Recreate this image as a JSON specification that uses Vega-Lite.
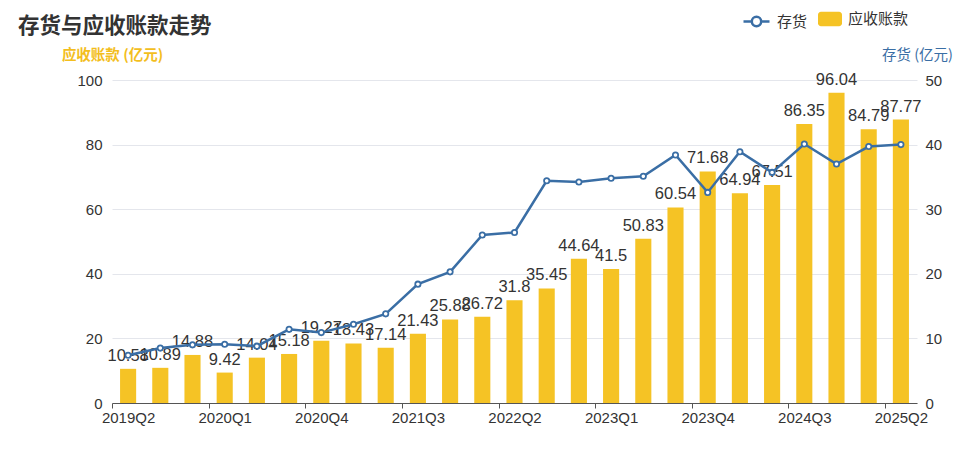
{
  "$schema": "https://vega.github.io/schema/vega-lite/v6.json",
  "width": 805,
  "height": 323,
  "autosize": {"type": "none"},
  "padding": {"left": 112, "top": 80, "right": 56, "bottom": 55},
  "background": "white",
  "config": {
    "font": "Liberation Sans, Noto Sans CJK SC, sans-serif",
    "view": {"stroke": null}
  },
  "title": {
    "text": "存货与应收账款走势",
    "anchor": "start",
    "frame": "group",
    "dx": -94,
    "dy": 40,
    "fontSize": 21.5,
    "fontWeight": "bold",
    "color": "#333333",
    "font": "Noto Sans CJK SC",
    "offset": 10
  },
  "data": {
    "values": [
      {"q": "2019Q2", "ar": 10.58, "inv": 7.4},
      {"q": "2019Q3", "ar": 10.89, "inv": 8.5},
      {"q": "2019Q4", "ar": 14.88, "inv": 9.0},
      {"q": "2020Q1", "ar": 9.42, "inv": 9.1},
      {"q": "2020Q2", "ar": 14.04, "inv": 8.8},
      {"q": "2020Q3", "ar": 15.18, "inv": 11.4},
      {"q": "2020Q4", "ar": 19.27, "inv": 10.9},
      {"q": "2021Q1", "ar": 18.43, "inv": 12.2},
      {"q": "2021Q2", "ar": 17.14, "inv": 13.8},
      {"q": "2021Q3", "ar": 21.43, "inv": 18.4},
      {"q": "2021Q4", "ar": 25.88, "inv": 20.3},
      {"q": "2022Q1", "ar": 26.72, "inv": 26.0},
      {"q": "2022Q2", "ar": 31.8, "inv": 26.4},
      {"q": "2022Q3", "ar": 35.45, "inv": 34.4},
      {"q": "2022Q4", "ar": 44.64, "inv": 34.2},
      {"q": "2023Q1", "ar": 41.5, "inv": 34.8},
      {"q": "2023Q2", "ar": 50.83, "inv": 35.1},
      {"q": "2023Q3", "ar": 60.54, "inv": 38.4},
      {"q": "2023Q4", "ar": 71.68, "inv": 32.6},
      {"q": "2024Q1", "ar": 64.94, "inv": 38.9},
      {"q": "2024Q2", "ar": 67.51, "inv": 35.7},
      {"q": "2024Q3", "ar": 86.35, "inv": 40.1},
      {"q": "2024Q4", "ar": 96.04, "inv": 37.0},
      {"q": "2025Q1", "ar": 84.79, "inv": 39.7},
      {"q": "2025Q2", "ar": 87.77, "inv": 40.0}
    ]
  },
  "encoding": {
    "x": {
      "field": "q",
      "type": "ordinal",
      "sort": null,
      "scale": {"type": "band", "paddingInner": 0, "paddingOuter": 0},
      "axis": {
        "title": null,
        "labelExpr": "indexof(['2019Q2','2020Q1','2020Q4','2021Q3','2022Q2','2023Q1','2023Q4','2024Q3','2025Q2'], datum.value) >= 0 ? datum.value : ''",
        "tickOpacity": {
          "condition": {"test": "indexof(['2019Q2','2020Q1','2020Q4','2021Q3','2022Q2','2023Q1','2023Q4','2024Q3','2025Q2'], datum.value) >= 0", "value": 1},
          "value": 0
        },
        "tickOffset": -16,
        "labelOffset": 16,
        "labelAngle": 0,
        "labelFontSize": 15,
        "labelColor": "#333333",
        "labelPadding": 2,
        "labelOverlap": false,
        "labelBound": false,
        "labelFlush": false,
        "domainColor": "#555555",
        "tickColor": "#555555",
        "tickSize": 5,
        "grid": false
      }
    }
  },
  "layer": [
    {
      "mark": {"type": "bar", "width": {"band": 0.5}},
      "encoding": {
        "y": {
          "field": "ar",
          "type": "quantitative",
          "scale": {"domain": [0, 100]},
          "axis": {
            "title": "应收账款 (亿元)",
            "titleAngle": 0,
            "titleX": 0,
            "titleY": -25,
            "titleAlign": "center",
            "titleBaseline": "middle",
            "titleColor": "#F3BE1E",
            "titleFontSize": 14.5,
            "titleFontWeight": "bold",
            "titleFont": "Noto Sans CJK SC",
            "values": [0, 20, 40, 60, 80, 100],
            "labelOverlap": false,
            "labelFontSize": 15,
            "labelColor": "#333333",
            "labelPadding": 10,
            "domain": false,
            "ticks": false,
            "gridColor": "#E4E6EC",
            "gridWidth": 1
          }
        },
        "fill": {
          "datum": "应收账款",
          "scale": {"domain": ["应收账款"], "range": ["#F5C325"]},
          "legend": {
            "title": null,
            "orient": "none",
            "legendX": 706,
            "legendY": -73,
            "symbolType": "M-0.75,-0.6 L0.75,-0.6 A0.25,0.25 0 0 1 1,-0.35 L1,0.35 A0.25,0.25 0 0 1 0.75,0.6 L-0.75,0.6 A0.25,0.25 0 0 1 -1,0.35 L-1,-0.35 A0.25,0.25 0 0 1 -0.75,-0.6 Z",
            "symbolSize": 576,
            "symbolStrokeWidth": 0,
            "labelFontSize": 15,
            "labelColor": "#333333",
            "labelFont": "Noto Sans CJK SC",
            "labelOffset": 6
          }
        }
      }
    },
    {
      "mark": {"type": "text", "baseline": "bottom", "dy": -5, "fontSize": 16.5, "color": "#333333"},
      "encoding": {
        "y": {"field": "ar", "type": "quantitative", "scale": {"domain": [0, 100]}, "axis": null},
        "text": {"field": "ar", "type": "quantitative"}
      }
    },
    {
      "mark": {
        "type": "line",
        "strokeWidth": 2.5,
        "point": {"filled": false, "fill": "white", "size": 28, "strokeWidth": 1.8}
      },
      "encoding": {
        "y": {
          "field": "inv",
          "type": "quantitative",
          "scale": {"domain": [0, 50]},
          "axis": {
            "orient": "right",
            "title": "存货 (亿元)",
            "titleAngle": 0,
            "titleX": 0,
            "titleY": -25,
            "titleAlign": "center",
            "titleBaseline": "middle",
            "titleColor": "#3A6EA5",
            "titleFontSize": 14.5,
            "titleFontWeight": "normal",
            "titleFont": "Noto Sans CJK SC",
            "values": [0, 10, 20, 30, 40, 50],
            "labelOverlap": false,
            "labelFontSize": 15,
            "labelColor": "#333333",
            "labelPadding": 8,
            "domain": false,
            "ticks": false,
            "grid": false
          }
        },
        "stroke": {
          "datum": "存货",
          "scale": {"domain": ["存货"], "range": ["#3A6EA5"]},
          "legend": {
            "title": null,
            "orient": "none",
            "legendX": 630,
            "legendY": -73,
            "symbolType": "M-1,0 L-0.36,0 M0.36,0 L1,0 M0.36,0 A0.36,0.36 0 1 1 -0.36,0 A0.36,0.36 0 1 1 0.36,0 Z",
            "symbolSize": 676,
            "symbolStrokeWidth": 2.5,
            "symbolFillColor": "white",
            "labelFontSize": 15,
            "labelColor": "#333333",
            "labelFont": "Noto Sans CJK SC",
            "labelOffset": 6
          }
        }
      }
    }
  ],
  "resolve": {"scale": {"y": "independent"}}
}
